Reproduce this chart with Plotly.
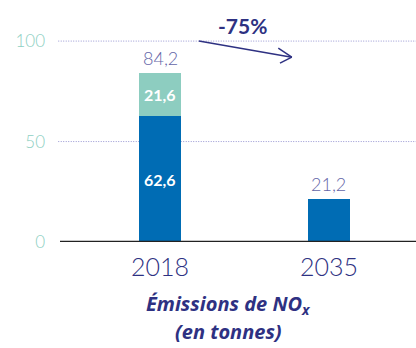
import plotly.graph_objects as go

years = ["2018", "2035"]
base_values = [62.6, 21.2]      # dark blue part
extra_values = [21.6, None]     # light teal part stacked on 2018
y_ticks = [0, 50, 100]
change_label = "-75%"
title_lines = ["Émissions de NO<sub>x</sub>", "(en tonnes)"]

DARK_BLUE = "#006CB4"
TEAL = "#8DCDC0"
NAVY = "#2E3182"
LABEL_PURPLE = "#6466A8"
TICK_TEAL = "#8ECFC2"
FONT = "Lato"
TITLE_FONT = "Open Sans"

def fmt(v):
    return f"{v:.1f}".replace(".", ",")

totals = [b + (e or 0) for b, e in zip(base_values, extra_values)]
x_pos = list(range(len(years)))

fig = go.Figure()
fig.add_bar(x=x_pos, y=base_values, marker_color=DARK_BLUE, width=0.25,
            marker_line_width=0, hoverinfo="skip")
fig.add_bar(x=x_pos, y=[e if e is not None else 0 for e in extra_values],
            marker_color=TEAL, width=0.25, marker_line_width=0, hoverinfo="skip")

annotations = []
for i, (b, e, t) in enumerate(zip(base_values, extra_values, totals)):
    if e is not None:
        # values written inside the stacked segments
        annotations.append(dict(x=i, y=b / 2, text=f"<b>{fmt(b)}</b>", showarrow=False,
                                font=dict(family=FONT, size=16, color="white")))
        annotations.append(dict(x=i, y=b + e / 2, text=f"<b>{fmt(e)}</b>", showarrow=False,
                                font=dict(family=FONT, size=16, color="white")))
    # total above each bar
    annotations.append(dict(x=i, y=t, text=fmt(t), showarrow=False, yanchor="bottom", yshift=2,
                            font=dict(family=FONT, size=18, color=LABEL_PURPLE, weight=300)))

# change label above the trend arrow
annotations.append(dict(x=0.49, y=108, text=f"<b>{change_label}</b>", showarrow=False,
                        font=dict(family=FONT, size=21, color=NAVY)))

# axis title under the categories, one annotation per line
for line, ypos in zip(title_lines, [-0.285, -0.405]):
    annotations.append(dict(xref="paper", yref="paper", x=0.472, y=ypos, yanchor="middle",
                            text=f"<b><i>{line}</i></b>", showarrow=False,
                            font=dict(family=TITLE_FONT, size=20, color=NAVY)))

shapes = []
for t in y_ticks[1:]:
    shapes.append(dict(type="line", xref="paper", x0=-0.005, x1=1, yref="y", y0=t, y1=t,
                       line=dict(color="#9896D2", width=1, dash="1px,1.5px"), layer="below"))
# baseline
shapes.append(dict(type="line", xref="paper", x0=0, x1=1, yref="y", y0=0, y1=0,
                   line=dict(color="#222222", width=2.5)))
# trend arrow: shaft and open chevron head
shapes.append(dict(type="line", x0=0.23, y0=100, x1=0.78, y1=92,
                   line=dict(color=NAVY, width=1.5)))
shapes.append(dict(type="line", x0=0.70, y0=96.5, x1=0.78, y1=92,
                   line=dict(color=NAVY, width=1.5)))
shapes.append(dict(type="line", x0=0.71, y0=89.0, x1=0.78, y1=92,
                   line=dict(color=NAVY, width=1.5)))

fig.update_layout(
    width=416, height=348,
    margin=dict(l=60, r=0, t=21, b=106),
    paper_bgcolor="white", plot_bgcolor="white",
    barmode="stack", showlegend=False,
    annotations=annotations, shapes=shapes,
    xaxis=dict(range=[-0.592, 1.515], tickvals=x_pos, ticktext=years,
               showgrid=False, zeroline=False, showline=False, ticks="",
               ticklabelstandoff=8,
               tickfont=dict(family=FONT, size=25, color=NAVY, weight=300)),
    yaxis=dict(range=[0, 110], tickvals=y_ticks, showgrid=False, zeroline=False,
               showline=False, ticks="", ticklabelstandoff=14,
               tickfont=dict(family=FONT, size=17, color=TICK_TEAL, weight=300)),
)

fig.write_html("out.html")
